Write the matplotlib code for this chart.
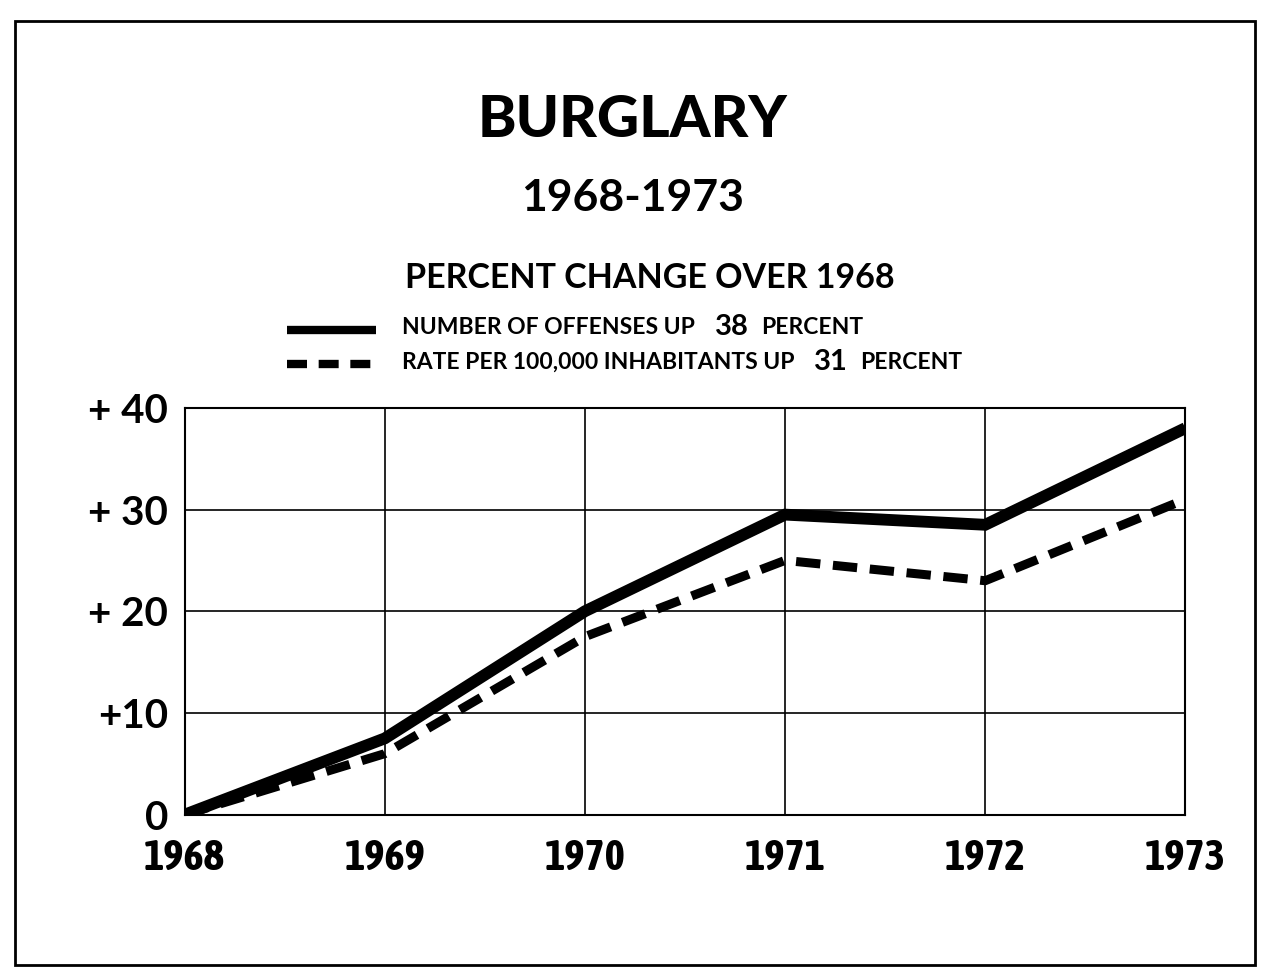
import matplotlib.pyplot as plt
import matplotlib.patheffects as pe
from matplotlib import font_manager
from matplotlib.patches import Rectangle
from matplotlib.lines import Line2D

years = [1968, 1969, 1970, 1971, 1972, 1973]
offenses_pct = [0, 7.5, 20, 29.5, 28.5, 38]
rate_pct = [0, 6, 17.5, 25, 23, 31]

y_ticks = [0, 10, 20, 30, 40]
y_tick_labels = ["0", "+10", "+ 20", "+ 30", "+ 40"]
year_labels = ["1968", "1969", "1970", "1971", "1972", "1973"]

TEXT_FONT = "Lato"


def pick_narrow_font():
    # the year labels are set in a condensed bold face; use one if installed
    narrow = [f for f in font_manager.fontManager.ttflist
              if "Narrow" in f.name or "Condensed" in f.name]
    bold = [f for f in narrow if str(f.weight) in ("bold", "700", "800", "900")]
    if bold:
        return bold[0].name, 31, False
    if narrow:
        return narrow[0].name, 31, True
    return "Roboto", 26, False


def main() -> None:
    year_font, year_size, fake_bold = pick_narrow_font()

    fig = plt.figure(figsize=(12.65, 9.71), dpi=100)
    fig.patch.set_facecolor("white")

    ax = fig.add_axes([0.146, 0.161, 0.791, 0.419])

    # outer border of the page
    fig.add_artist(
        Rectangle(
            (0.012, 0.006),
            0.98,
            0.972,
            transform=fig.transFigure,
            fill=False,
            edgecolor="black",
            linewidth=2,
        )
    )

    # titles
    fig.text(0.5, 0.876, "BURGLARY", ha="center", va="center",
             fontsize=42, fontweight="black", family=TEXT_FONT)
    fig.text(0.5, 0.796, "1968-1973", ha="center", va="center",
             fontsize=32, fontweight="bold", family=TEXT_FONT)
    fig.text(0.514, 0.714, "PERCENT CHANGE OVER 1968", ha="center", va="center",
             fontsize=24.5, fontweight="bold", family=TEXT_FONT)

    # legend rows, built as separate text pieces
    rows = [
        ("NUMBER OF OFFENSES UP", "38", 0.656, 0.660, "-"),
        ("RATE PER 100,000 INHABITANTS UP", "31", 0.620, 0.625, "--"),
    ]
    for label, value, y, line_y, style in rows:
        t1 = fig.text(0.318, y, label, ha="left", va="baseline",
                      fontsize=16.5, fontweight="bold", family=TEXT_FONT)
        num = ax.annotate(value, xy=(1, 0), xycoords=t1, xytext=(14, -1.5),
                          textcoords="offset points", va="bottom",
                          fontsize=21, fontweight="bold", family=TEXT_FONT)
        ax.annotate("PERCENT", xy=(1, 0), xycoords=num, xytext=(9, 1.5),
                    textcoords="offset points", va="bottom",
                    fontsize=16.5, fontweight="bold", family=TEXT_FONT)
        if style == "-":
            line = Line2D([0.227, 0.297], [line_y, line_y],
                          transform=fig.transFigure, color="black",
                          linewidth=6, solid_capstyle="butt")
        else:
            line = Line2D([0.227, 0.297], [line_y, line_y],
                          transform=fig.transFigure, color="black",
                          linewidth=6, dashes=(2.4, 1.4),
                          dash_capstyle="butt")
        fig.add_artist(line)

    ax.plot(years, offenses_pct, color="black", linewidth=8.5,
            solid_joinstyle="miter", solid_capstyle="butt", zorder=3)
    ax.plot(years, rate_pct, color="black", linewidth=6.5,
            dashes=(2.7, 1.4), dash_capstyle="butt", zorder=3)

    ax.set_xlim(1968, 1973)
    ax.set_ylim(0, 40)
    ax.set_xticks(years)
    ax.set_xticklabels(year_labels, family=year_font, fontweight="bold",
                       fontsize=year_size)
    if fake_bold:
        for lbl in ax.get_xticklabels():
            lbl.set_path_effects([pe.withStroke(linewidth=2.2, foreground="black")])
    ax.set_yticks(y_ticks)
    ax.set_yticklabels(y_tick_labels, family=TEXT_FONT, fontweight="bold",
                       fontsize=29)
    ax.tick_params(length=0, pad=12)
    ax.tick_params(axis="x", pad=16)

    ax.grid(True, color="black", linewidth=1.2)
    for spine in ax.spines.values():
        spine.set_linewidth(1.5)

    fig.savefig("out.png", dpi=100)


if __name__ == "__main__":
    main()
